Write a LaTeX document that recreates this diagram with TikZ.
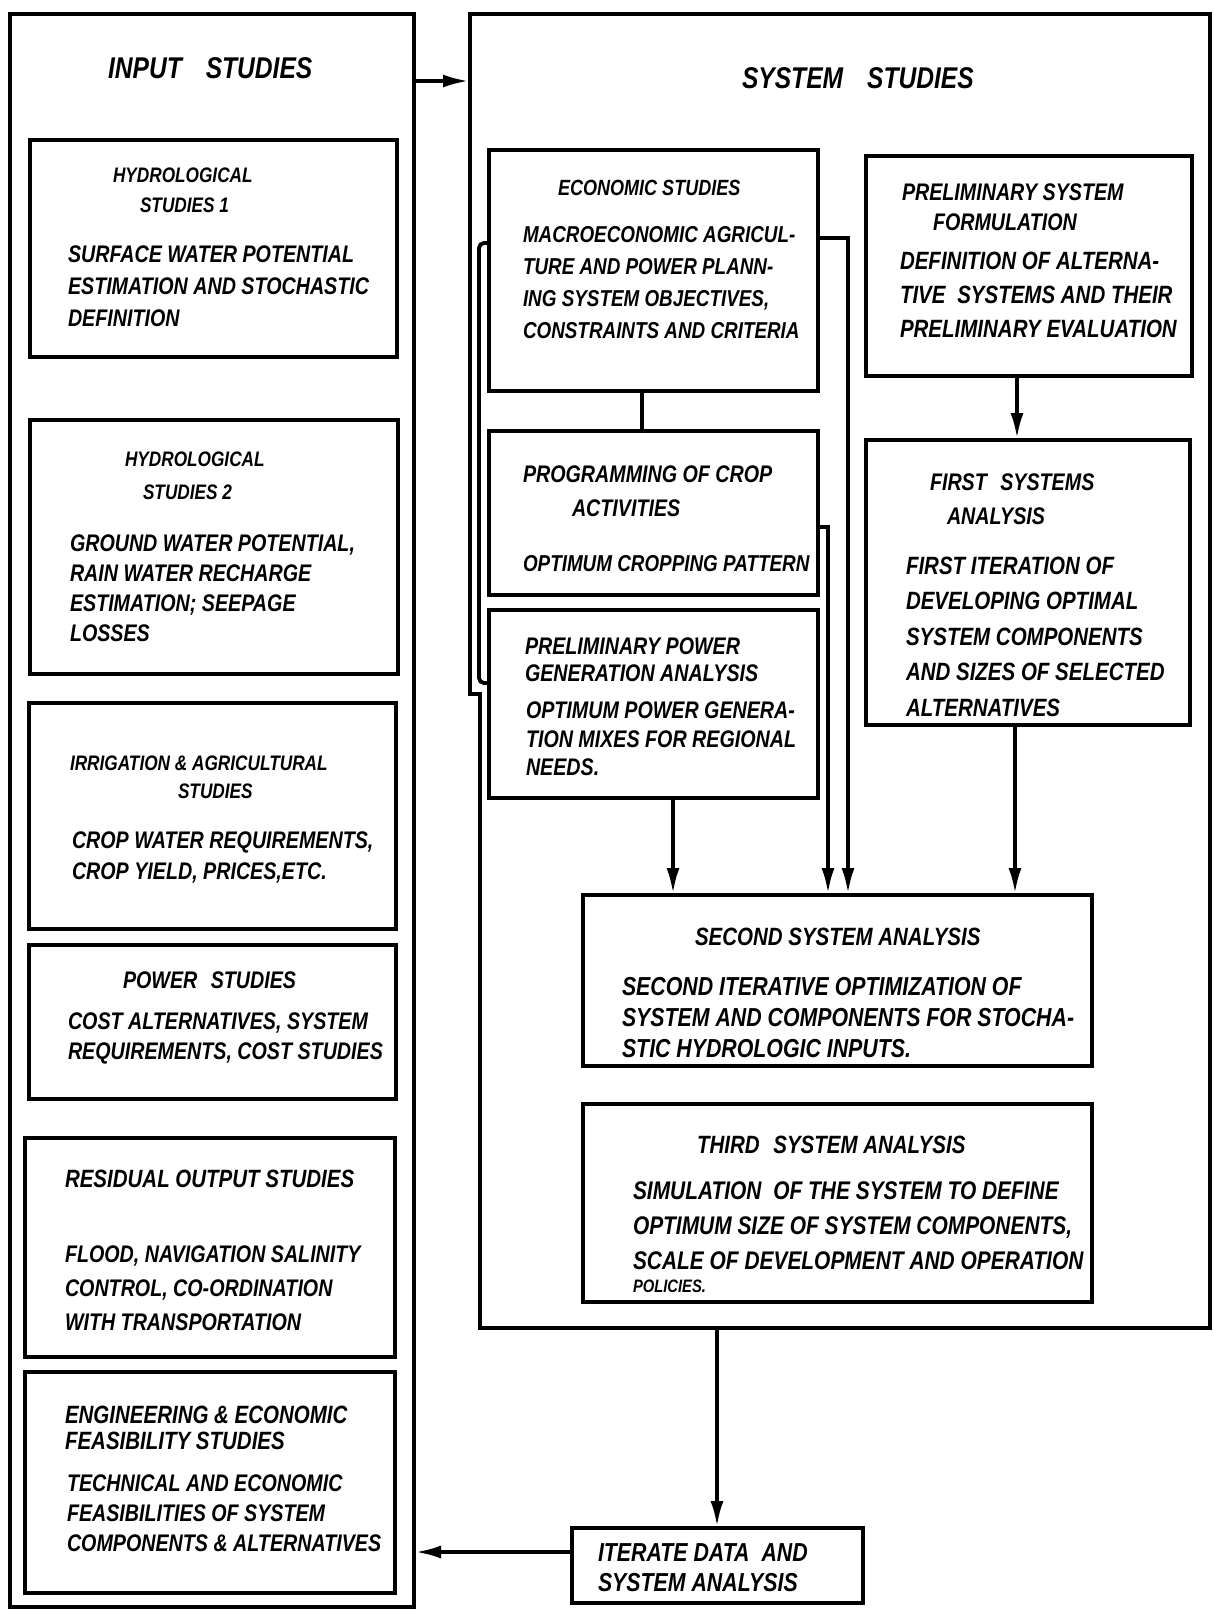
\documentclass[tikz,border=0pt]{standalone}
\usepackage{fontspec}
\setmainfont{Liberation Sans}[FakeStretch=0.82]
\usetikzlibrary{arrows.meta}
\tikzset{
  bx/.style={draw, line width=4.5pt, inner sep=0pt, outer sep=0pt},
  ln/.style={line width=3.8pt},
  arr/.style={line width=3.8pt, -{Latex[length=26pt,width=13pt]}, shorten >=1pt},
  tx/.style 2 args={font=\fontsize{#1}{#2}\selectfont\bfseries\itshape, inner sep=0pt, outer sep=0pt, align=left, anchor=north west},
}
\newcommand\mkbx[5]{\node[bx, anchor=north west, minimum width={(#4-#2)*1pt}, minimum height={(#5-#3)*1pt}] (#1) at (#2,#3) {};}
\begin{document}
\begin{tikzpicture}[x=1pt,y=-1pt]
\fill[white] (0,0) rectangle (1214,1610);
\useasboundingbox (0,0) rectangle (1214,1610);

% ---------- input side ----------
\mkbx{input}{10}{14}{414}{1607}
\mkbx{hyd1}{30}{140}{397}{357}
\mkbx{hyd2}{30}{420}{398}{674}
\mkbx{irr}{29}{703}{396}{929}
\mkbx{pow}{29}{945}{396}{1099}
\mkbx{res}{25}{1138}{395}{1357}
\mkbx{eng}{25}{1372}{395}{1593}

\node[tx={30}{34}] (tin) at (108,58) {INPUT\hspace{24pt}STUDIES};
\node[tx={21}{29}] (h1a) at (113,168) {HYDROLOGICAL};
\node[tx={21}{29}] (h1b) at (140,198) {STUDIES 1};
\node[tx={24}{32}] (h1c) at (68,246) {SURFACE WATER POTENTIAL\\ESTIMATION AND STOCHASTIC\\DEFINITION};
\node[tx={21}{29}] (h2a) at (125,452) {HYDROLOGICAL};
\node[tx={21}{29}] (h2b) at (143,485) {STUDIES 2};
\node[tx={24}{30}] (h2c) at (70,535) {GROUND WATER POTENTIAL,\\RAIN WATER RECHARGE\\ESTIMATION; SEEPAGE\\LOSSES};
\node[tx={21}{29}] (ira) at (70,756) {IRRIGATION \& AGRICULTURAL};
\node[tx={21}{29}] (irb) at (178,784) {STUDIES};
\node[tx={24}{31}] (irc) at (72,832) {CROP WATER REQUIREMENTS,\\CROP YIELD, PRICES,ETC.};
\node[tx={24}{30}] (pwa) at (123,972) {POWER\hspace{8pt} STUDIES};
\node[tx={24}{30}] (pwb) at (68,1013) {COST ALTERNATIVES, SYSTEM\\REQUIREMENTS, COST STUDIES};
\node[tx={25}{30}] (rsa) at (65,1170) {RESIDUAL OUTPUT STUDIES};
\node[tx={24}{34}] (rsb) at (65,1246) {FLOOD, NAVIGATION SALINITY\\CONTROL, CO-ORDINATION\\WITH TRANSPORTATION};
\node[tx={25}{26}] (ena) at (65,1406) {ENGINEERING \& ECONOMIC\\FEASIBILITY STUDIES};
\node[tx={24}{30}] (enb) at (67,1475) {TECHNICAL AND ECONOMIC\\FEASIBILITIES OF SYSTEM\\COMPONENTS \& ALTERNATIVES};

% ---------- system side ----------
\node[inner sep=0pt, outer sep=0pt, anchor=north west, minimum width=740pt, minimum height=1314pt] (system) at (470,14) {};
\draw[line width=4.5pt] (system.north west) -- (system.north east) -- (system.south east)
   -- (480,1328) -- (480,694) -- (470,694) -- cycle;

\mkbx{econ}{489}{150}{818}{391}
\mkbx{prog}{489}{431}{818}{595}
\mkbx{ppow}{489}{610}{818}{798}
\mkbx{psys}{866}{156}{1192}{376}
\mkbx{first}{866}{440}{1190}{725}
\mkbx{second}{583}{895}{1092}{1066}
\mkbx{third}{583}{1104}{1092}{1302}
\mkbx{iter}{572}{1528}{863}{1603}

\node[tx={30}{34}] (tsy) at (742,68) {SYSTEM\hspace{24pt}STUDIES};
\node[tx={22}{30}] (eca) at (558,180) {ECONOMIC STUDIES};
\node[tx={23}{32}] (ecb) at (523,226) {MACROECONOMIC AGRICUL-\\TURE AND POWER PLANN-\\ING SYSTEM OBJECTIVES,\\CONSTRAINTS AND CRITERIA};
\node[tx={24}{30}] (pga) at (523,466) {PROGRAMMING OF CROP};
\node[tx={24}{30}] (pgb) at (572,500) {ACTIVITIES};
\node[tx={23}{30}] (pgc) at (523,555) {OPTIMUM CROPPING PATTERN};
\node[tx={24}{27}] (ppa) at (525,638) {PRELIMINARY POWER\\GENERATION ANALYSIS};
\node[tx={24}{28.5}] (ppb) at (526,702) {OPTIMUM POWER GENERA-\\TION MIXES FOR REGIONAL\\NEEDS.};
\node[tx={24}{30}] (psa) at (902,184) {PRELIMINARY SYSTEM};
\node[tx={24}{30}] (psb) at (933,214) {FORMULATION};
\node[tx={25}{34}] (psc) at (900,252) {DEFINITION OF ALTERNA-\\TIVE\hspace{6pt} SYSTEMS AND THEIR\\PRELIMINARY EVALUATION};
\node[tx={24}{33}] (fsa) at (930,474) {FIRST\hspace{8pt} SYSTEMS};
\node[tx={24}{30}] (fsb) at (947,508) {ANALYSIS};
\node[tx={25}{35.5}] (fsc) at (906,557) {FIRST ITERATION OF\\DEVELOPING OPTIMAL\\SYSTEM COMPONENTS\\AND SIZES OF SELECTED\\ALTERNATIVES};
\node[tx={25}{30}] (sca) at (695,928) {SECOND SYSTEM ANALYSIS};
\node[tx={26}{31}] (scb) at (622,977) {SECOND ITERATIVE OPTIMIZATION OF\\SYSTEM AND COMPONENTS FOR STOCHA-\\STIC HYDROLOGIC INPUTS.};
\node[tx={25}{30}] (tha) at (697,1136) {THIRD\hspace{8pt} SYSTEM ANALYSIS};
\node[tx={25.5}{35}] (thb) at (633,1182) {SIMULATION\hspace{6pt} OF THE SYSTEM TO DEFINE\\OPTIMUM SIZE OF SYSTEM COMPONENTS,\\SCALE OF DEVELOPMENT AND OPERATION};
\node[tx={18}{20}] (thc) at (633,1280) {POLICIES.};
\node[tx={26}{30}] (ita) at (598,1544) {ITERATE DATA\hspace{6pt} AND\\SYSTEM ANALYSIS};

% ---------- connectors ----------
\draw[arr] (input.east |- 0,81) -- (system.west |- 0,81);
\draw[ln] (econ.south -| 642,0) -- (prog.north -| 642,0);
\draw[ln, rounded corners=5pt] (econ.west |- 0,243) -- (479,243) -- (479,683) -- (ppow.west |- 0,683);
\draw[arr] (econ.east |- 0,238) -- (848,238) -- (second.north -| 848,0);
\draw[arr] (prog.east |- 0,527) -- (828,527) -- (second.north -| 828,0);
\draw[arr] (ppow.south -| 673,0) -- (second.north -| 673,0);
\draw[arr] (first.south -| 1015,0) -- (second.north -| 1015,0);
\draw[arr] (psys.south -| 1017,0) -- (first.north -| 1017,0);
\draw[arr] (system.south -| 717,0) -- (iter.north -| 717,0);
\draw[arr] (iter.west |- 0,1552) -- (input.east |- 0,1552);
\end{tikzpicture}
\end{document}
